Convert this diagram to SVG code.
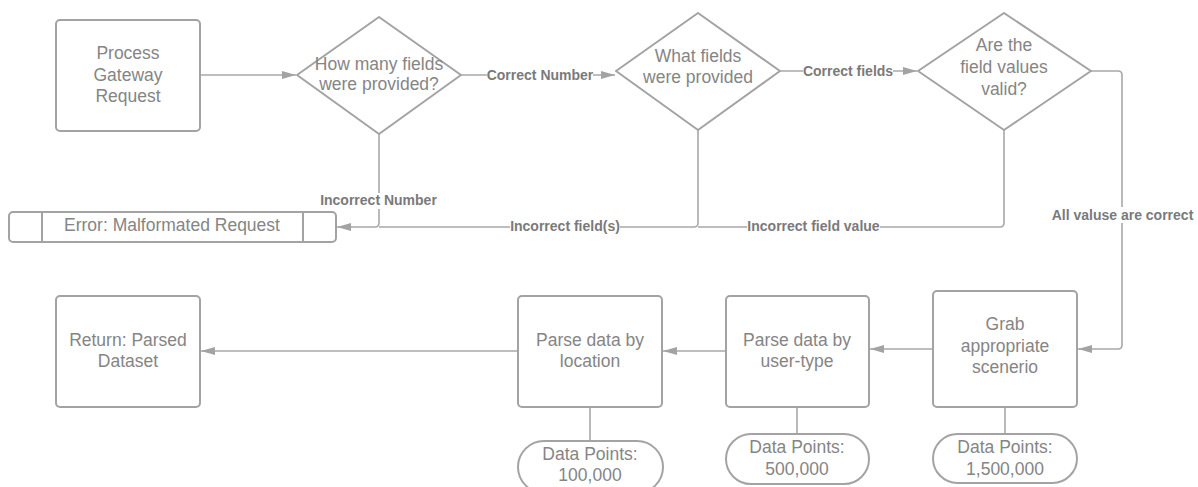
<svg xmlns="http://www.w3.org/2000/svg" width="1198" height="487" viewBox="0 0 1198 487">
<style>
.s{fill:#fff;stroke:#a3a3a3;stroke-width:2;stroke-linejoin:round}
.t{font-family:"Liberation Sans",Arial,sans-serif;font-size:17.5px;fill:#858585;text-anchor:middle}
.c{fill:none;stroke:#a8a8a8;stroke-width:1.6;stroke-linejoin:round}
.l{font-family:"Liberation Sans",Arial,sans-serif;font-size:14px;font-weight:bold;fill:#7a7a7a;text-anchor:middle}
.bg{fill:#fff}
</style>
<defs>
<marker id="ahb" viewBox="0 0 14 10" refX="14" refY="5" markerWidth="14" markerHeight="10" markerUnits="userSpaceOnUse" orient="auto">
<path d="M0,1 L14,5 L0,9 z" fill="#a3a3a3"/>
</marker>
</defs>
<g id="connectors">
<path class="c" d="M200,75 H296" marker-end="url(#ahb)"/>
<path class="c" d="M461,75 H615" marker-end="url(#ahb)"/>
<path class="c" d="M780,71 H917" marker-end="url(#ahb)"/>
<path class="c" d="M379,134 V223 Q379,227 375,227 H337" marker-end="url(#ahb)"/>
<path class="c" d="M698,130 V223 Q698,227 694,227 H379"/>
<path class="c" d="M1004,130 V223 Q1004,227 1000,227 H698"/>
<path class="c" d="M1091,71 H1118 Q1122,71 1122,75 V345 Q1122,349 1118,349 H1078" marker-end="url(#ahb)"/>
<path class="c" d="M933,349 H870" marker-end="url(#ahb)"/>
<path class="c" d="M726,351 H663" marker-end="url(#ahb)"/>
<path class="c" d="M518,351 H201" marker-end="url(#ahb)"/>
<path class="c" d="M590,407 V441"/>
<path class="c" d="M797,407 V434"/>
<path class="c" d="M1005,407 V434"/>
<rect class="bg" x="487" y="67" width="106" height="16"/>
<text class="l" x="540" y="80">Correct Number</text>
<rect class="bg" x="803" y="63" width="90" height="16"/>
<text class="l" x="848" y="76">Correct fields</text>
<rect class="bg" x="320" y="193" width="117" height="16"/>
<text class="l" x="378.5" y="205">Incorrect Number</text>
<rect class="bg" x="510" y="219" width="110" height="16"/>
<text class="l" x="565" y="231">Incorrect field(s)</text>
<rect class="bg" x="747" y="219" width="133" height="16"/>
<text class="l" x="813.5" y="231">Incorrect field value</text>
<rect class="bg" x="1052" y="207" width="141" height="16"/>
<text class="l" x="1122.5" y="220">All valuse are correct</text>
</g>
<g id="process">
<rect class="s" x="56" y="20" width="144" height="111" rx="4"/>
<text class="t" x="128" y="59">Process</text>
<text class="t" x="128" y="81">Gateway</text>
<text class="t" x="128" y="102">Request</text>
</g>
<g id="howmany">
<path class="s" d="M379,17 L461,75 L379,134 L297,75 Z"/>
<text class="t" x="379" y="70">How many fields</text>
<text class="t" x="379" y="90">were provided?</text>
</g>
<g id="whatfields">
<path class="s" d="M698,13 L780,71 L698,130 L616,71 Z"/>
<text class="t" x="698" y="62">What fields</text>
<text class="t" x="698" y="83">were provided</text>
</g>
<g id="valid">
<path class="s" d="M1004,13 L1091,71 L1004,130 L918,71 Z"/>
<text class="t" x="1004" y="51">Are the</text>
<text class="t" x="1004" y="73">field values</text>
<text class="t" x="1004" y="95">valid?</text>
</g>
<g id="error">
<rect class="s" x="9" y="212" width="327" height="30" rx="4"/>
<path class="s" d="M42,212 V242 M303,212 V242"/>
<text class="t" x="172" y="231">Error: Malformated Request</text>
</g>
<g id="grab">
<rect class="s" x="933" y="291" width="144" height="116" rx="4"/>
<text class="t" x="1005" y="330">Grab</text>
<text class="t" x="1005" y="352">appropriate</text>
<text class="t" x="1005" y="373">scenerio</text>
</g>
<g id="usertype">
<rect class="s" x="726" y="296" width="143" height="111" rx="4"/>
<text class="t" x="797" y="346">Parse data by</text>
<text class="t" x="797" y="367">user-type</text>
</g>
<g id="location">
<rect class="s" x="518" y="296" width="144" height="111" rx="4"/>
<text class="t" x="590" y="346">Parse data by</text>
<text class="t" x="590" y="367">location</text>
</g>
<g id="return">
<rect class="s" x="56" y="296" width="144" height="111" rx="4"/>
<text class="t" x="128" y="346">Return: Parsed</text>
<text class="t" x="128" y="367">Dataset</text>
</g>
<g id="dp100k">
<rect class="s" x="518" y="441" width="145" height="52" rx="26"/>
<text class="t" x="590" y="460">Data Points:</text>
<text class="t" x="590" y="481">100,000</text>
</g>
<g id="dp500k">
<rect class="s" x="726" y="434" width="143" height="50" rx="25"/>
<text class="t" x="797" y="453">Data Points:</text>
<text class="t" x="797" y="475">500,000</text>
</g>
<g id="dp1500k">
<rect class="s" x="933" y="434" width="144" height="49" rx="24.5"/>
<text class="t" x="1005" y="453">Data Points:</text>
<text class="t" x="1005" y="475">1,500,000</text>
</g>
</svg>
